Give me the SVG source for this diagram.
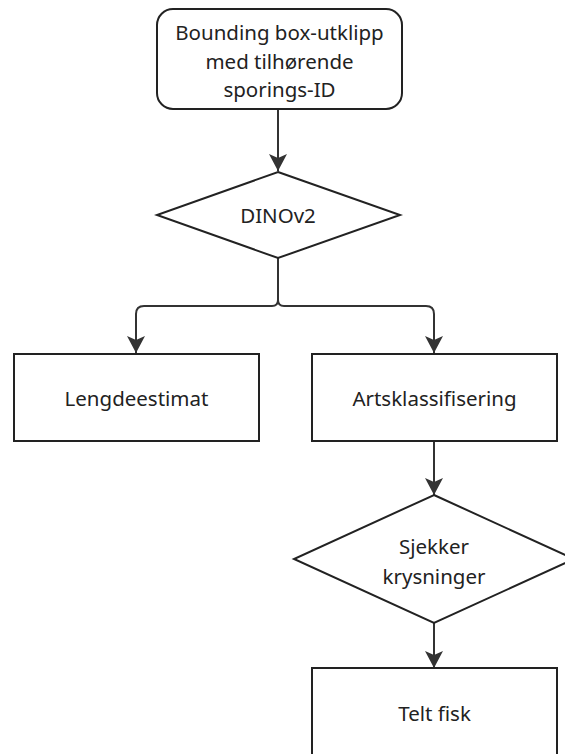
<svg xmlns="http://www.w3.org/2000/svg" width="565" height="754" viewBox="0 0 565 754">
<style>
.shape{fill:#ffffff;stroke:#222222;stroke-width:2}
.edge{fill:none;stroke:#333333;stroke-width:2}
.lbl{font-family:"Noto Sans","Open Sans",sans-serif;font-size:20.5px;fill:#222222;text-anchor:middle;dominant-baseline:central}
</style>
<defs>
<marker id="arr" markerUnits="userSpaceOnUse" markerWidth="20" markerHeight="20" refX="17" refY="9" orient="auto">
<path d="M0,0 L17,9 L0,18 L4,9 Z" fill="#333333"/>
</marker>
</defs>
<rect width="565" height="754" fill="#ffffff"/>
<g id="connectors">
<path class="edge" d="M278,110 L278,171" marker-end="url(#arr)"/>
<path class="edge" d="M278,258 L278,300 Q278,306 272,306 L144,306 Q136,306 136,314 L136,353" marker-end="url(#arr)"/>
<path class="edge" d="M278,258 L278,300 Q278,306 284,306 L426,306 Q434,306 434,314 L434,353" marker-end="url(#arr)"/>
<path class="edge" d="M434,441 L434,495" marker-end="url(#arr)"/>
<path class="edge" d="M434,623 L434,668" marker-end="url(#arr)"/>
</g>
<g id="node-input">
<rect class="shape" x="157" y="9" width="245" height="100" rx="16" ry="16"/>
<text class="lbl" x="279.5" y="32">Bounding box-utklipp</text>
<text class="lbl" x="279.5" y="61">med tilhørende</text>
<text class="lbl" x="279.5" y="89">sporings-ID</text>
</g>
<g id="node-dinov2">
<polygon class="shape" points="278,172 400,215 278,258 157,215"/>
<text class="lbl" x="278" y="215">DINOv2</text>
</g>
<g id="node-lengde">
<rect class="shape" x="14" y="354" width="245" height="87"/>
<text class="lbl" x="136.5" y="398">Lengdeestimat</text>
</g>
<g id="node-arts">
<rect class="shape" x="312" y="354" width="245" height="87"/>
<text class="lbl" x="434.5" y="398">Artsklassifisering</text>
</g>
<g id="node-sjekker">
<polygon class="shape" points="434,495 574,559 434,623 294,559"/>
<text class="lbl" x="434" y="546">Sjekker</text>
<text class="lbl" x="434" y="576">krysninger</text>
</g>
<g id="node-telt">
<rect class="shape" x="312" y="668" width="245" height="90"/>
<text class="lbl" x="434.5" y="713">Telt fisk</text>
</g>
</svg>
